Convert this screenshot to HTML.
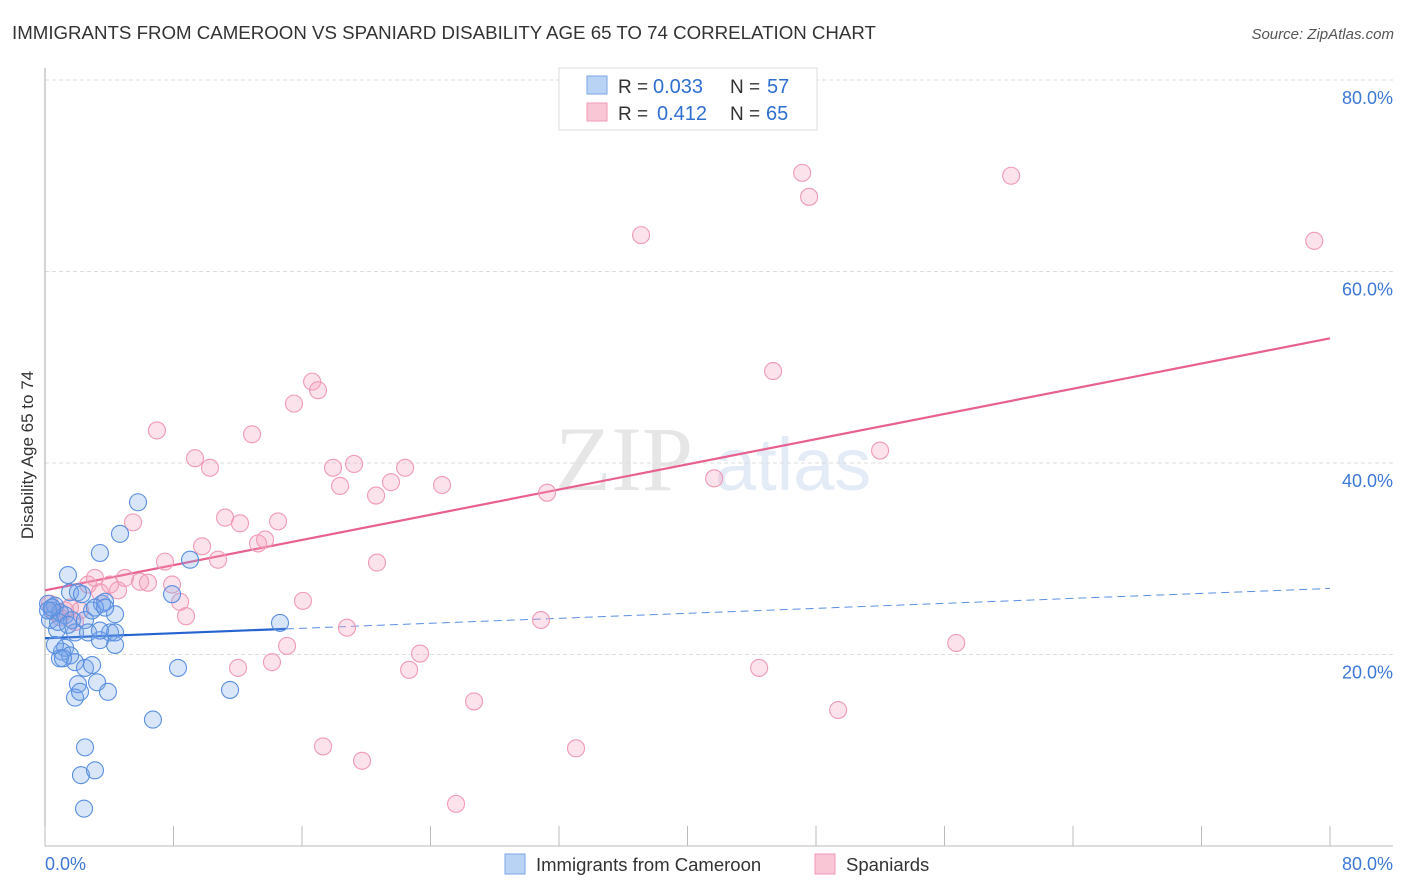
<!DOCTYPE html>
<html><head><meta charset="utf-8"><style>
body{margin:0;background:#fff;font-family:"Liberation Sans",sans-serif}
</style></head><body>
<svg id="chart" width="1406" height="892" xmlns="http://www.w3.org/2000/svg" style="display:block">
<text x="12" y="39" font-size="18.7" fill="#333">IMMIGRANTS FROM CAMEROON VS SPANIARD DISABILITY AGE 65 TO 74 CORRELATION CHART</text>
<text x="1394" y="39" font-size="15" fill="#555" text-anchor="end" font-style="italic">Source: ZipAtlas.com</text>
<g><text x="555" y="490" font-size="92" fill="#e6e6e6" font-family="Liberation Serif,serif">ZIP</text><text x="715" y="490" font-size="74" fill="#e3ebf7" font-family="Liberation Sans,sans-serif">atlas</text></g>
<g id="grid"></g><g id="axes"></g><g id="lines"></g><g id="pts"></g>
<text transform="translate(33,455) rotate(-90)" font-size="17" fill="#333" text-anchor="middle">Disability Age 65 to 74</text>
<g>
<rect x="559" y="68" width="258" height="62" fill="#fff" stroke="#ddd"/>
<rect x="587" y="76" width="20" height="18" fill="#b9d3f5" stroke="#7aa6e6"/>
<rect x="587" y="103" width="20" height="18" fill="#f9c6d5" stroke="#f09ab5"/>
<text x="618" y="93" font-size="19" fill="#333">R =</text>
<text x="653" y="93" font-size="20" fill="#2e6fd0">0.033</text>
<text x="730" y="93" font-size="19" fill="#333">N =</text>
<text x="767" y="93" font-size="20" fill="#2e6fd0">57</text>
<text x="618" y="120" font-size="19" fill="#333">R =</text>
<text x="657" y="120" font-size="20" fill="#2e6fd0">0.412</text>
<text x="730" y="120" font-size="19" fill="#333">N =</text>
<text x="766" y="120" font-size="20" fill="#2e6fd0">65</text>
</g>
<g>
<rect x="505" y="854" width="20" height="20" fill="#b9d3f5" stroke="#7aa6e6"/>
<text x="536" y="871" font-size="18.5" fill="#333">Immigrants from Cameroon</text>
<rect x="815" y="854" width="20" height="20" fill="#f9c6d5" stroke="#f09ab5"/>
<text x="846" y="871" font-size="18.5" fill="#333">Spaniards</text>
</g>
</svg>
<script>
const yTicks=[20,40,60,80];
const yTickLabels=["20.0%","40.0%","60.0%","80.0%"];
const xTicks=[0,8,16,24,32,40,48,56,64,72,80];
const blueX=[0.19,0.44,0.62,0.31,0.75,0.93,1.25,1.43,1.56,1.68,1.87,2.05,2.30,2.49,2.68,2.93,3.42,3.55,3.74,4.05,4.36,4.36,4.67,5.79,1.25,1.06,1.56,0.93,1.87,2.49,2.93,3.24,3.92,2.05,1.87,2.18,7.91,9.03,8.28,6.72,11.52,14.63,2.49,2.24,3.11,2.43,3.42,0.62,0.19,0.81,1.43,3.11,3.74,4.36,3.42,1.12,0.44];
const blueY=[25.3,24.6,25.1,23.6,22.6,24.4,24.1,28.3,26.5,23.6,22.3,26.5,26.3,23.6,22.3,24.6,30.6,25.3,25.5,22.3,24.2,21.0,32.6,35.9,20.7,20.3,19.9,19.6,19.2,18.6,18.9,17.1,16.1,16.9,15.5,16.1,26.3,29.9,18.6,13.2,16.3,23.3,10.3,7.4,7.9,3.9,21.5,21.0,24.6,23.4,23.1,24.9,24.9,22.3,22.5,19.6,24.9];
const pinkX=[0.31,0.62,0.93,1.25,1.56,1.87,2.18,2.68,3.11,3.42,4.05,4.55,4.98,5.92,6.41,5.48,6.97,7.47,7.91,8.41,8.78,9.34,9.78,10.27,10.77,11.21,12.02,12.14,12.89,13.26,13.70,14.13,14.51,15.07,15.50,16.06,16.63,17.0,17.31,18.80,17.93,18.37,19.24,19.74,20.61,20.67,21.54,22.42,22.67,23.35,24.72,25.59,26.71,30.88,31.26,33.06,37.11,41.66,44.46,45.33,47.14,47.57,49.38,51.99,56.73,60.15,79.02];
const pinkY=[25.3,24.4,23.9,24.6,24.9,23.4,24.6,27.3,28.0,26.5,27.3,26.7,28.0,27.6,27.5,33.8,43.4,29.7,27.3,25.5,24.0,40.5,31.3,39.5,29.9,34.3,18.6,33.7,43.0,31.6,32.0,19.2,33.9,20.9,46.2,25.6,48.5,47.6,10.4,22.8,39.5,37.6,39.9,8.9,36.6,29.6,38.0,39.5,18.4,20.1,37.7,4.4,15.1,23.6,36.9,10.2,63.8,38.4,18.6,49.6,70.3,67.8,14.2,41.3,21.2,70.0,63.2];
const blueFit=[21.7,0.065], pinkFit=[26.7,0.329];
const NS="http://www.w3.org/2000/svg";
const X0=45,X1=1330,Y0=846,Y80=80;
const sx=v=>X0+(v/80)*(X1-X0), sy=v=>Y0-(v/80)*(Y0-Y80);
function mk(tag,attrs,parent){const e=document.createElementNS(NS,tag);for(const k in attrs)e.setAttribute(k,attrs[k]);document.getElementById(parent).appendChild(e);return e;}
yTicks.forEach((t,i)=>{
 const g=mk('line',{x1:X0,x2:1393,y1:sy(t),y2:sy(t),stroke:'#ddd','stroke-dasharray':'4,3'},'grid');
 
 
 const l=mk('text',{x:1393,y:sy(t)+24,'font-size':18,fill:'#3d78d6','text-anchor':'end'},'grid');
 l.textContent=yTickLabels[i];
 
 
});
const ax=mk('line',{x1:X0,x2:X0,y1:68,y2:Y0,stroke:'#aaa'},'axes');


const bx=mk('line',{x1:X0,x2:1393,y1:Y0,y2:Y0,stroke:'#bbb'},'axes');


xTicks.forEach(t=>{const k=mk('line',{x1:sx(t),x2:sx(t),y1:826,y2:Y0,stroke:'#bbb'},'axes');
 
 });
const xl0=mk('text',{x:45,y:870,'font-size':18,fill:'#3d78d6'},'axes');xl0.textContent='0.0%';


const xl1=mk('text',{x:1393,y:870,'font-size':18,fill:'#3d78d6','text-anchor':'end'},'axes');xl1.textContent='80.0%';


function pts(xs,ys,fill,stroke,name){xs.forEach((x,i)=>{const c=mk('circle',{cx:sx(x),cy:sy(ys[i]),r:8.5,fill:fill,stroke:stroke,'stroke-width':1.1},'pts');
 
 });}
pts(pinkX,pinkY,'rgba(244,160,188,0.3)','#f09ab5','spaniard-point');
pts(blueX,blueY,'rgba(120,165,235,0.28)','#5a8fe0','cameroon-point');
const pl=mk('line',{x1:sx(0),y1:sy(pinkFit[0]),x2:sx(80),y2:sy(pinkFit[0]+pinkFit[1]*80),stroke:'#e8608f','stroke-width':2.2},'lines');


const bl=mk('line',{x1:sx(0),y1:sy(blueFit[0]),x2:sx(15),y2:sy(blueFit[0]+blueFit[1]*15),stroke:'#2563d0','stroke-width':2.2},'lines');


const bd=mk('line',{x1:sx(15),y1:sy(blueFit[0]+blueFit[1]*15),x2:sx(80),y2:sy(blueFit[0]+blueFit[1]*80),stroke:'#5b8fe0','stroke-width':1,'stroke-dasharray':'8,5'},'lines');


</script>
</body></html>
